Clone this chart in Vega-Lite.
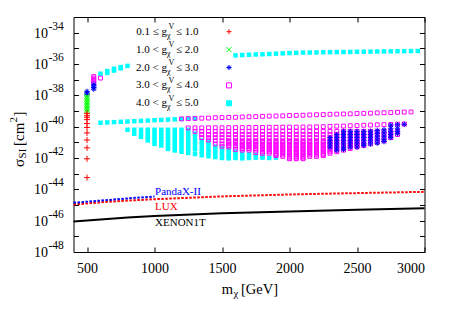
{
"$schema":"https://vega.github.io/schema/vega-lite/v6.json",
"width":351,"height":235,
"autosize":{"type":"none"},
"padding":{"left":73.5,"top":17,"right":27.5,"bottom":64},
"background":"white",
"config":{"view":{"stroke":"#000000","strokeWidth":1},"font":"Liberation Serif","text":{"font":"Liberation Serif","color":"#000000"},"axis":{"domain":false,"grid":false,"ticks":true,"tickColor":"#000000","tickSize":5,"tickWidth":1,"offset":-5,"labelFont":"Liberation Serif","labelFontSize":14,"labelColor":"#000000"}},
"datasets":{
"cy":[{"m":600,"s":2.4e-37},{"m":650,"s":3.55e-37},{"m":650,"s":2.69e-37},{"m":700,"s":5.01e-37},{"m":700,"s":3.8e-37},{"m":750,"s":6.31e-37},{"m":750,"s":5.25e-37},{"m":800,"s":7.59e-37},
{"m":1600,"s":3.55e-36},{"m":1650,"s":3.72e-36},{"m":1700,"s":3.89e-36},{"m":1750,"s":4.07e-36},{"m":1800,"s":4.17e-36},{"m":1850,"s":4.37e-36},{"m":1900,"s":4.57e-36},{"m":1950,"s":4.79e-36},{"m":2000,"s":5.01e-36},{"m":2050,"s":5.13e-36},{"m":2100,"s":5.37e-36},{"m":2150,"s":5.43e-36},{"m":2200,"s":5.5e-36},{"m":2250,"s":5.62e-36},{"m":2300,"s":5.69e-36},{"m":2350,"s":5.75e-36},{"m":2400,"s":5.82e-36},{"m":2450,"s":5.89e-36},{"m":2500,"s":6.03e-36},{"m":2550,"s":6.1e-36},{"m":2600,"s":6.17e-36},{"m":2650,"s":6.31e-36},{"m":2700,"s":6.38e-36},{"m":2750,"s":6.46e-36},{"m":2800,"s":6.53e-36},{"m":2850,"s":6.61e-36},{"m":2900,"s":6.68e-36},{"m":2950,"s":6.76e-36},
{"m":600,"s":1.78e-40},{"m":650,"s":1.86e-40},{"m":700,"s":1.95e-40},{"m":750,"s":2.04e-40},{"m":800,"s":2.14e-40},{"m":850,"s":2.24e-40},{"m":900,"s":2.34e-40},{"m":950,"s":2.45e-40},{"m":1000,"s":2.57e-40},{"m":1050,"s":2.69e-40},{"m":1100,"s":2.82e-40},{"m":1150,"s":2.95e-40},{"m":1200,"s":3.09e-40},{"m":1250,"s":3.24e-40},{"m":1300,"s":3.39e-40},
{"m":800,"s":6.31e-41},
{"m":850,"s":6.31e-41},{"m":850,"s":3.55e-41},
{"m":900,"s":6.31e-41},{"m":900,"s":3.55e-41},{"m":900,"s":2.24e-41},
{"m":950,"s":6.31e-41},{"m":950,"s":3.72e-41},{"m":950,"s":2.24e-41},{"m":950,"s":1.32e-41},
{"m":1000,"s":6.31e-41},{"m":1000,"s":3.8e-41},{"m":1000,"s":2.29e-41},{"m":1000,"s":1.38e-41},{"m":1000,"s":7.94e-42},
{"m":1050,"s":6.31e-41},{"m":1050,"s":3.98e-41},{"m":1050,"s":2.51e-41},{"m":1050,"s":1.585e-41},{"m":1050,"s":1e-41},{"m":1050,"s":6.31e-42},
{"m":1100,"s":6.31e-41},{"m":1100,"s":3.98e-41},{"m":1100,"s":2.51e-41},{"m":1100,"s":1.585e-41},{"m":1100,"s":1e-41},{"m":1100,"s":6.31e-42},{"m":1100,"s":3.8e-42},
{"m":1150,"s":6.31e-41},{"m":1150,"s":3.8e-41},{"m":1150,"s":2.29e-41},{"m":1150,"s":1.38e-41},{"m":1150,"s":8.32e-42},{"m":1150,"s":5.01e-42},{"m":1150,"s":3.02e-42},
{"m":1200,"s":6.31e-41},{"m":1200,"s":3.72e-41},{"m":1200,"s":2.19e-41},{"m":1200,"s":1.29e-41},{"m":1200,"s":7.59e-42},{"m":1200,"s":4.47e-42},{"m":1200,"s":2.51e-42},
{"m":1250,"s":6.31e-41},{"m":1250,"s":3.55e-41},{"m":1250,"s":2e-41},{"m":1250,"s":1.12e-41},{"m":1250,"s":6.31e-42},{"m":1250,"s":3.55e-42},{"m":1250,"s":2.09e-42},
{"m":1300,"s":3.55e-41},{"m":1300,"s":2e-41},{"m":1300,"s":1.12e-41},{"m":1300,"s":6.31e-42},{"m":1300,"s":3.55e-42},{"m":1300,"s":1.78e-42},
{"m":1350,"s":1.32e-41},{"m":1350,"s":7.94e-42},{"m":1350,"s":4.47e-42},{"m":1350,"s":2.51e-42},{"m":1350,"s":1.5e-42},
{"m":1400,"s":1e-41},{"m":1400,"s":6.31e-42},{"m":1400,"s":3.55e-42},{"m":1400,"s":2.24e-42},{"m":1400,"s":1.3e-42},
{"m":1450,"s":5.37e-42},{"m":1450,"s":3.16e-42},{"m":1450,"s":2e-42},{"m":1450,"s":1.15e-42},
{"m":1500,"s":4.17e-42},{"m":1500,"s":2.51e-42},{"m":1500,"s":1.585e-42},{"m":1500,"s":1e-42},
{"m":1550,"s":3.47e-42},{"m":1550,"s":2e-42},{"m":1550,"s":1.26e-42},{"m":1550,"s":9.5e-43},
{"m":1600,"s":2.51e-42},{"m":1600,"s":1.585e-42},{"m":1600,"s":1e-42},
{"m":1650,"s":1.905e-42},{"m":1650,"s":1.26e-42},{"m":1650,"s":9.5e-43},
{"m":1700,"s":1.78e-42},{"m":1700,"s":1e-42},
{"m":1750,"s":1.585e-42},{"m":1750,"s":1.05e-42},
{"m":1800,"s":1.26e-42},{"m":1800,"s":1.05e-42},{"m":1850,"s":1e-42},{"m":1900,"s":1.05e-42}],
"mg":[{"m":550,"s":1.585e-37},{"m":550,"s":1.26e-37},{"m":550,"s":1e-37},{"m":550,"s":7.94e-38},{"m":550,"s":6.31e-38},{"m":600,"s":1.26e-37},
{"m":1200,"s":3.16e-40},{"m":1250,"s":3.24e-40},{"m":1300,"s":3.39e-40},{"m":1350,"s":3.47e-40},{"m":1400,"s":3.55e-40},{"m":1450,"s":3.72e-40},{"m":1500,"s":3.8e-40},{"m":1550,"s":3.89e-40},{"m":1600,"s":3.98e-40},{"m":1650,"s":4.17e-40},{"m":1700,"s":4.27e-40},{"m":1750,"s":4.37e-40},{"m":1800,"s":4.57e-40},{"m":1850,"s":4.68e-40},{"m":1900,"s":4.79e-40},{"m":1950,"s":4.9e-40},{"m":2000,"s":5.13e-40},{"m":2050,"s":5.25e-40},{"m":2100,"s":5.37e-40},{"m":2150,"s":5.62e-40},{"m":2200,"s":5.75e-40},{"m":2250,"s":5.89e-40},{"m":2300,"s":6.17e-40},{"m":2350,"s":6.31e-40},{"m":2400,"s":6.46e-40},{"m":2450,"s":6.61e-40},{"m":2500,"s":6.92e-40},{"m":2550,"s":7.08e-40},{"m":2600,"s":7.24e-40},{"m":2650,"s":7.59e-40},{"m":2700,"s":7.76e-40},{"m":2750,"s":7.94e-40},{"m":2800,"s":8.32e-40},{"m":2850,"s":8.51e-40},{"m":2900,"s":8.71e-40},
{"m":1250,"s":8.32e-41},{"m":1300,"s":8.32e-41},{"m":1350,"s":8.32e-41},{"m":1400,"s":8.51e-41},{"m":1450,"s":8.51e-41},{"m":1500,"s":8.51e-41},{"m":1550,"s":8.71e-41},{"m":1600,"s":8.71e-41},{"m":1650,"s":8.71e-41},{"m":1700,"s":8.91e-41},{"m":1750,"s":8.91e-41},{"m":1800,"s":8.91e-41},{"m":1850,"s":9.12e-41},{"m":1900,"s":9.12e-41},{"m":1950,"s":9.33e-41},{"m":2000,"s":9.33e-41},{"m":2050,"s":9.33e-41},{"m":2100,"s":9.55e-41},{"m":2150,"s":9.55e-41},{"m":2200,"s":9.77e-41},{"m":2250,"s":1e-40},{"m":2300,"s":1.047e-40},{"m":2350,"s":1.072e-40},{"m":2400,"s":1.096e-40},{"m":2450,"s":1.148e-40},{"m":2500,"s":1.175e-40},{"m":2550,"s":1.23e-40},{"m":2600,"s":1.259e-40},{"m":2650,"s":1.318e-40},{"m":2700,"s":1.349e-40},{"m":2750,"s":1.38e-40},{"m":2800,"s":1.445e-40},{"m":2850,"s":1.479e-40},
{"m":1300,"s":5.01e-41},
{"m":1350,"s":5.01e-41},{"m":1350,"s":3.16e-41},{"m":1350,"s":2e-41},
{"m":1400,"s":5.01e-41},{"m":1400,"s":3.16e-41},{"m":1400,"s":2e-41},{"m":1400,"s":1.41e-41},
{"m":1450,"s":5.01e-41},{"m":1450,"s":3.16e-41},{"m":1450,"s":2e-41},{"m":1450,"s":1.26e-41},{"m":1450,"s":7.94e-42},
{"m":1500,"s":5.01e-41},{"m":1500,"s":3.16e-41},{"m":1500,"s":2e-41},{"m":1500,"s":1.26e-41},{"m":1500,"s":7.94e-42},{"m":1500,"s":5.62e-42},
{"m":1550,"s":5.01e-41},{"m":1550,"s":3.16e-41},{"m":1550,"s":2e-41},{"m":1550,"s":1.26e-41},{"m":1550,"s":1e-41},{"m":1550,"s":7.94e-42},{"m":1550,"s":6.31e-42},{"m":1550,"s":5.01e-42},
{"m":1600,"s":5.01e-41},{"m":1600,"s":3.16e-41},{"m":1600,"s":2e-41},{"m":1600,"s":1.26e-41},{"m":1600,"s":1e-41},{"m":1600,"s":7.94e-42},{"m":1600,"s":6.31e-42},{"m":1600,"s":5.01e-42},{"m":1600,"s":3.55e-42},
{"m":1650,"s":5.01e-41},{"m":1650,"s":3.16e-41},{"m":1650,"s":2e-41},{"m":1650,"s":1.26e-41},{"m":1650,"s":1e-41},{"m":1650,"s":7.94e-42},{"m":1650,"s":6.31e-42},{"m":1650,"s":5.01e-42},{"m":1650,"s":3.98e-42},{"m":1650,"s":3.16e-42},
{"m":1700,"s":5.01e-41},{"m":1700,"s":3.16e-41},{"m":1700,"s":2e-41},{"m":1700,"s":1.26e-41},{"m":1700,"s":1e-41},{"m":1700,"s":7.94e-42},{"m":1700,"s":6.31e-42},{"m":1700,"s":5.01e-42},{"m":1700,"s":3.98e-42},{"m":1700,"s":3.16e-42},
{"m":1750,"s":5.01e-41},{"m":1750,"s":3.16e-41},{"m":1750,"s":2e-41},{"m":1750,"s":1.26e-41},{"m":1750,"s":1e-41},{"m":1750,"s":7.94e-42},{"m":1750,"s":6.31e-42},{"m":1750,"s":5.01e-42},{"m":1750,"s":3.98e-42},{"m":1750,"s":3.16e-42},{"m":1750,"s":2.24e-42},
{"m":1800,"s":5.01e-41},{"m":1800,"s":3.16e-41},{"m":1800,"s":2e-41},{"m":1800,"s":1.26e-41},{"m":1800,"s":1e-41},{"m":1800,"s":7.94e-42},{"m":1800,"s":6.31e-42},{"m":1800,"s":5.01e-42},{"m":1800,"s":3.98e-42},{"m":1800,"s":3.16e-42},{"m":1800,"s":2.51e-42},{"m":1800,"s":2e-42},
{"m":1850,"s":5.01e-41},{"m":1850,"s":3.16e-41},{"m":1850,"s":2e-41},{"m":1850,"s":1.26e-41},{"m":1850,"s":1e-41},{"m":1850,"s":7.94e-42},{"m":1850,"s":6.31e-42},{"m":1850,"s":5.01e-42},{"m":1850,"s":3.98e-42},{"m":1850,"s":3.16e-42},{"m":1850,"s":2.51e-42},{"m":1850,"s":2e-42},
{"m":1900,"s":5.01e-41},{"m":1900,"s":3.16e-41},{"m":1900,"s":2e-41},{"m":1900,"s":1.26e-41},{"m":1900,"s":1e-41},{"m":1900,"s":7.94e-42},{"m":1900,"s":6.31e-42},{"m":1900,"s":5.01e-42},{"m":1900,"s":3.98e-42},{"m":1900,"s":3.16e-42},{"m":1900,"s":2.51e-42},{"m":1900,"s":2e-42},{"m":1900,"s":1.585e-42},{"m":1900,"s":1.41e-42},
{"m":1950,"s":5.01e-41},{"m":1950,"s":3.16e-41},{"m":1950,"s":2e-41},{"m":1950,"s":1.26e-41},{"m":1950,"s":1e-41},{"m":1950,"s":7.94e-42},{"m":1950,"s":6.31e-42},{"m":1950,"s":5.01e-42},{"m":1950,"s":3.98e-42},{"m":1950,"s":3.16e-42},{"m":1950,"s":2.51e-42},{"m":1950,"s":2e-42},{"m":1950,"s":1.585e-42},{"m":1950,"s":1.26e-42},
{"m":2000,"s":5.01e-41},{"m":2000,"s":3.16e-41},{"m":2000,"s":2e-41},{"m":2000,"s":1.26e-41},{"m":2000,"s":1e-41},{"m":2000,"s":7.94e-42},{"m":2000,"s":6.31e-42},{"m":2000,"s":5.01e-42},{"m":2000,"s":3.98e-42},{"m":2000,"s":3.16e-42},{"m":2000,"s":2.51e-42},{"m":2000,"s":2e-42},{"m":2000,"s":1.585e-42},{"m":2000,"s":1.26e-42},{"m":2000,"s":1e-42},{"m":2000,"s":8.91e-43},
{"m":2050,"s":5.01e-41},{"m":2050,"s":3.16e-41},{"m":2050,"s":2e-41},{"m":2050,"s":1.26e-41},{"m":2050,"s":1e-41},{"m":2050,"s":7.94e-42},{"m":2050,"s":6.31e-42},{"m":2050,"s":5.01e-42},{"m":2050,"s":3.98e-42},{"m":2050,"s":3.16e-42},{"m":2050,"s":2.51e-42},{"m":2050,"s":2e-42},{"m":2050,"s":1.585e-42},{"m":2050,"s":1.26e-42},{"m":2050,"s":1e-42},{"m":2050,"s":8.91e-43},
{"m":2100,"s":5.01e-41},{"m":2100,"s":3.16e-41},{"m":2100,"s":2e-41},{"m":2100,"s":1.26e-41},{"m":2100,"s":1e-41},{"m":2100,"s":7.94e-42},{"m":2100,"s":6.31e-42},{"m":2100,"s":5.01e-42},{"m":2100,"s":3.98e-42},{"m":2100,"s":3.16e-42},{"m":2100,"s":2.51e-42},{"m":2100,"s":2e-42},{"m":2100,"s":1.585e-42},{"m":2100,"s":1.26e-42},{"m":2100,"s":1e-42},{"m":2100,"s":8.91e-43},
{"m":2150,"s":5.01e-41},{"m":2150,"s":3.16e-41},{"m":2150,"s":2e-41},{"m":2150,"s":1.26e-41},{"m":2150,"s":1e-41},{"m":2150,"s":7.94e-42},{"m":2150,"s":6.31e-42},{"m":2150,"s":5.01e-42},{"m":2150,"s":3.98e-42},{"m":2150,"s":3.16e-42},{"m":2150,"s":2.51e-42},{"m":2150,"s":2e-42},{"m":2150,"s":1.585e-42},{"m":2150,"s":1.26e-42},
{"m":2200,"s":5.01e-41},{"m":2200,"s":3.16e-41},{"m":2200,"s":2e-41},{"m":2200,"s":1.26e-41},{"m":2200,"s":1e-41},{"m":2200,"s":7.94e-42},{"m":2200,"s":6.31e-42},{"m":2200,"s":5.01e-42},{"m":2200,"s":3.98e-42},{"m":2200,"s":3.16e-42},{"m":2200,"s":2.51e-42},{"m":2200,"s":2e-42},{"m":2200,"s":1.585e-42},{"m":2200,"s":1.26e-42},
{"m":2250,"s":5.01e-41},{"m":2250,"s":3.16e-41},{"m":2250,"s":2e-41},{"m":2250,"s":1.26e-41},{"m":2250,"s":1e-41},{"m":2250,"s":7.94e-42},{"m":2250,"s":6.31e-42},{"m":2250,"s":5.01e-42},{"m":2250,"s":3.98e-42},{"m":2250,"s":3.16e-42},{"m":2250,"s":2.51e-42},{"m":2250,"s":2e-42},{"m":2250,"s":1.585e-42},{"m":2250,"s":1.41e-42},
{"m":2300,"s":5.01e-41},{"m":2300,"s":3.16e-41},{"m":2300,"s":2e-41},{"m":2300,"s":1.26e-41},{"m":2300,"s":1e-41},{"m":2300,"s":7.94e-42},{"m":2300,"s":6.31e-42},{"m":2300,"s":5.01e-42},{"m":2300,"s":3.98e-42},{"m":2300,"s":3.16e-42},{"m":2300,"s":2.51e-42},{"m":2300,"s":2e-42},
{"m":2350,"s":5.01e-41},{"m":2350,"s":3.16e-41},{"m":2350,"s":2e-41},{"m":2350,"s":1.26e-41},{"m":2350,"s":1e-41},{"m":2350,"s":7.94e-42},{"m":2350,"s":6.31e-42},{"m":2350,"s":5.01e-42},{"m":2350,"s":3.98e-42},{"m":2350,"s":3.16e-42},{"m":2350,"s":2.51e-42},
{"m":2400,"s":5.01e-41},{"m":2400,"s":3.16e-41},{"m":2400,"s":2e-41},{"m":2400,"s":1.26e-41},{"m":2400,"s":1e-41},{"m":2400,"s":7.94e-42},{"m":2400,"s":6.31e-42},{"m":2400,"s":5.01e-42},{"m":2400,"s":3.98e-42},{"m":2400,"s":3.16e-42},
{"m":2450,"s":5.01e-41},{"m":2450,"s":3.16e-41},{"m":2450,"s":2e-41},{"m":2450,"s":1.26e-41},{"m":2450,"s":1e-41},{"m":2450,"s":7.94e-42},{"m":2450,"s":6.31e-42},{"m":2450,"s":5.01e-42},{"m":2450,"s":3.98e-42},
{"m":2500,"s":5.01e-41},{"m":2500,"s":3.16e-41},{"m":2500,"s":2e-41},{"m":2500,"s":1.26e-41},{"m":2500,"s":1e-41},{"m":2500,"s":7.94e-42},{"m":2500,"s":6.31e-42},{"m":2500,"s":5.01e-42},
{"m":2550,"s":5.01e-41},{"m":2550,"s":3.16e-41},{"m":2550,"s":2e-41},{"m":2550,"s":1.26e-41},{"m":2550,"s":7.94e-42},{"m":2550,"s":6.31e-42},
{"m":2600,"s":5.01e-41},{"m":2600,"s":3.16e-41},{"m":2600,"s":2e-41},{"m":2600,"s":1.26e-41},{"m":2600,"s":7.94e-42},
{"m":2650,"s":5.01e-41},{"m":2650,"s":3.16e-41},{"m":2650,"s":2e-41},{"m":2650,"s":1.26e-41},{"m":2650,"s":1e-41},
{"m":2700,"s":5.01e-41},{"m":2700,"s":3.16e-41},{"m":2700,"s":2e-41},{"m":2700,"s":1.26e-41},
{"m":2750,"s":5.01e-41},{"m":2750,"s":3.16e-41},{"m":2750,"s":2e-41},
{"m":2800,"s":5.01e-41},{"m":2800,"s":3.16e-41}],
"bl":[{"m":500,"s":1.78e-38},{"m":500,"s":1.41e-38},{"m":500,"s":1.12e-38},
{"m":550,"s":5.01e-38},{"m":550,"s":3.98e-38},{"m":550,"s":3.16e-38},{"m":550,"s":2.51e-38},
{"m":2300,"s":2e-41},{"m":2300,"s":1.26e-41},{"m":2300,"s":7.94e-42},{"m":2300,"s":5.01e-42},
{"m":2350,"s":3.16e-41},{"m":2350,"s":2e-41},{"m":2350,"s":1.26e-41},{"m":2350,"s":7.94e-42},{"m":2350,"s":5.01e-42},{"m":2350,"s":3.16e-42},
{"m":2400,"s":5.01e-41},{"m":2400,"s":3.16e-41},{"m":2400,"s":2e-41},{"m":2400,"s":1.26e-41},{"m":2400,"s":7.94e-42},{"m":2400,"s":5.01e-42},{"m":2400,"s":3.55e-42},
{"m":2450,"s":5.01e-41},{"m":2450,"s":3.16e-41},{"m":2450,"s":2e-41},{"m":2450,"s":1.26e-41},{"m":2450,"s":7.94e-42},{"m":2450,"s":5.01e-42},
{"m":2500,"s":5.01e-41},{"m":2500,"s":3.16e-41},{"m":2500,"s":2e-41},{"m":2500,"s":1.26e-41},{"m":2500,"s":7.94e-42},{"m":2500,"s":5.01e-42},
{"m":2550,"s":5.01e-41},{"m":2550,"s":3.16e-41},{"m":2550,"s":2e-41},{"m":2550,"s":1.26e-41},{"m":2550,"s":7.94e-42},{"m":2550,"s":6.31e-42},
{"m":2600,"s":5.01e-41},{"m":2600,"s":3.16e-41},{"m":2600,"s":2e-41},{"m":2600,"s":1.26e-41},{"m":2600,"s":7.94e-42},
{"m":2650,"s":5.62e-41},{"m":2650,"s":3.55e-41},{"m":2650,"s":2.24e-41},{"m":2650,"s":1.41e-41},{"m":2650,"s":8.91e-42},
{"m":2700,"s":6.31e-41},{"m":2700,"s":3.98e-41},{"m":2700,"s":2.51e-41},{"m":2700,"s":1.585e-41},{"m":2700,"s":1.12e-41},
{"m":2750,"s":1.26e-40},{"m":2750,"s":7.94e-41},{"m":2750,"s":5.01e-41},{"m":2750,"s":3.16e-41},{"m":2750,"s":2e-41},
{"m":2800,"s":1.32e-40},{"m":2800,"s":7.94e-41},{"m":2800,"s":5.01e-41},{"m":2800,"s":3.55e-41},
{"m":2850,"s":1.41e-40}],
"gr":[{"m":500,"s":8.91e-39},{"m":500,"s":7.08e-39},{"m":500,"s":5.62e-39},{"m":500,"s":4.47e-39},{"m":500,"s":3.55e-39},{"m":500,"s":2.82e-39},{"m":500,"s":2.24e-39},{"m":500,"s":1.78e-39},{"m":500,"s":1.41e-39},{"m":500,"s":1.12e-39},{"m":500,"s":8.91e-40}],
"rd":[{"m":500,"s":7.08e-40},{"m":500,"s":5.01e-40},{"m":500,"s":3.98e-40},{"m":500,"s":2.82e-40},{"m":500,"s":1.585e-40},{"m":500,"s":8.91e-41},{"m":500,"s":3.98e-41},{"m":500,"s":1.41e-41},{"m":500,"s":4.47e-42},{"m":500,"s":8.91e-43},{"m":500,"s":5.62e-44}],
"lim":[{"c":"PandaX-II","m":400,"s":1.38e-45},{"c":"PandaX-II","m":600,"s":1.91e-45},{"c":"PandaX-II","m":800,"s":2.63e-45},{"c":"PandaX-II","m":1000,"s":3.47e-45},
{"c":"LUX","m":400,"s":1.07e-45},{"c":"LUX","m":500,"s":1.26e-45},{"c":"LUX","m":600,"s":1.48e-45},{"c":"LUX","m":800,"s":1.91e-45},{"c":"LUX","m":1000,"s":2.34e-45},{"c":"LUX","m":1500,"s":3.55e-45},{"c":"LUX","m":2000,"s":4.68e-45},{"c":"LUX","m":2500,"s":5.75e-45},{"c":"LUX","m":3000,"s":6.92e-45},
{"c":"XENON1T","m":400,"s":8.71e-47},{"c":"XENON1T","m":600,"s":1.175e-46},{"c":"XENON1T","m":800,"s":1.585e-46},{"c":"XENON1T","m":1000,"s":2e-46},{"c":"XENON1T","m":1500,"s":2.95e-46},{"c":"XENON1T","m":2000,"s":3.89e-46},{"c":"XENON1T","m":2500,"s":5.01e-46},{"c":"XENON1T","m":3000,"s":6.17e-46}],
"notes":[{"t":"PandaX-II","m":1004,"s":6.76e-45},{"t":"LUX","m":1004,"s":7.41e-46},{"t":"XENON1T","m":1004,"s":7.08e-47}],
"yt":[{"s":1e-48,"e":"-48"},{"s":1e-46,"e":"-46"},{"s":1e-44,"e":"-44"},{"s":1e-42,"e":"-42"},{"s":1e-40,"e":"-40"},{"s":1e-38,"e":"-38"},{"s":1e-36,"e":"-36"},{"s":1e-34,"e":"-34"}],
"leg":[{"k":1,"lo":"0.1 ≤ g","hi":"≤ 1.0"},{"k":2,"lo":"1.0 < g","hi":"≤ 2.0"},{"k":3,"lo":"2.0 < g","hi":"≤ 3.0"},{"k":4,"lo":"3.0 < g","hi":"≤ 4.0"},{"k":5,"lo":"4.0 < g","hi":"≤ 5.0"}]
},
"resolve":{"scale":{"y":"independent"},"axis":{"x":"independent","y":"independent"}},
"layer":[
{"resolve":{"axis":{"x":"independent","y":"independent"}},
"layer":[
{"data":{"name":"cy"},"mark":{"type":"point","shape":"square","filled":true,"color":"#00ffff","size":20,"opacity":1,"strokeWidth":0},
"encoding":{"x":{"field":"m","type":"quantitative","scale":{"domain":[400,3000],"nice":false,"zero":false},"axis":{"orient":"bottom","values":[500,1000,1500,2000,2500,3000],"format":"d","labelFont":"Liberation Serif","labelFontSize":14,"labelPadding":9,"title":null}},
"y":{"field":"s","type":"quantitative","scale":{"type":"log","domain":[1e-48,1e-33],"nice":false},"axis":{"orient":"left","values":[1e-48,1e-47,1e-46,1e-45,1e-44,1e-43,1e-42,1e-41,1e-40,1e-39,1e-38,1e-37,1e-36,1e-35,1e-34],"labels":false,"title":null}}}},
{"data":{"name":"mg"},"mark":{"type":"point","shape":"square","filled":false,"color":"#ff00ff","size":15,"strokeWidth":1,"opacity":1},
"encoding":{"x":{"field":"m","type":"quantitative","scale":{"domain":[400,3000],"nice":false,"zero":false},"axis":{"orient":"top","values":[500,1000,1500,2000,2500,3000],"labels":false,"title":null}},
"y":{"field":"s","type":"quantitative","scale":{"type":"log","domain":[1e-48,1e-33],"nice":false},"axis":{"orient":"right","values":[1e-48,1e-47,1e-46,1e-45,1e-44,1e-43,1e-42,1e-41,1e-40,1e-39,1e-38,1e-37,1e-36,1e-35,1e-34],"labels":false,"title":null}}}},
{"data":{"name":"bl"},"mark":{"type":"point","shape":"M-1,0L1,0M0,-1L0,1M-0.7,-0.7L0.7,0.7M-0.7,0.7L0.7,-0.7","filled":false,"color":"#0000ff","size":30,"strokeWidth":1,"opacity":1},
"encoding":{"x":{"field":"m","type":"quantitative","scale":{"domain":[400,3000],"nice":false,"zero":false},"axis":null},"y":{"field":"s","type":"quantitative","scale":{"type":"log","domain":[1e-48,1e-33],"nice":false},"axis":null}}},
{"data":{"name":"gr"},"mark":{"type":"point","shape":"M-1,-1L1,1M-1,1L1,-1","filled":false,"color":"#00ff00","size":25,"strokeWidth":1,"opacity":1},
"encoding":{"x":{"field":"m","type":"quantitative","scale":{"domain":[400,3000],"nice":false,"zero":false},"axis":null},"y":{"field":"s","type":"quantitative","scale":{"type":"log","domain":[1e-48,1e-33],"nice":false},"axis":null}}},
{"data":{"name":"rd"},"mark":{"type":"point","shape":"M-1,0L1,0M0,-1L0,1","filled":false,"color":"#ff0000","size":36,"strokeWidth":1,"opacity":1},
"encoding":{"x":{"field":"m","type":"quantitative","scale":{"domain":[400,3000],"nice":false,"zero":false},"axis":null},"y":{"field":"s","type":"quantitative","scale":{"type":"log","domain":[1e-48,1e-33],"nice":false},"axis":null}}},
{"data":{"name":"lim"},"transform":[{"filter":"datum.c == 'XENON1T'"}],"mark":{"type":"line","color":"#000000","strokeWidth":2},
"encoding":{"x":{"field":"m","type":"quantitative","scale":{"domain":[400,3000],"nice":false,"zero":false},"axis":null},"y":{"field":"s","type":"quantitative","scale":{"type":"log","domain":[1e-48,1e-33],"nice":false},"axis":null}}},
{"data":{"name":"lim"},"transform":[{"filter":"datum.c == 'LUX'"}],"mark":{"type":"line","color":"#ff0000","strokeWidth":2,"strokeDash":[2.5,1.5]},
"encoding":{"x":{"field":"m","type":"quantitative","scale":{"domain":[400,3000],"nice":false,"zero":false},"axis":null},"y":{"field":"s","type":"quantitative","scale":{"type":"log","domain":[1e-48,1e-33],"nice":false},"axis":null}}},
{"data":{"name":"lim"},"transform":[{"filter":"datum.c == 'PandaX-II'"}],"mark":{"type":"line","color":"#0000ff","strokeWidth":2,"strokeDash":[2.5,1.5]},
"encoding":{"x":{"field":"m","type":"quantitative","scale":{"domain":[400,3000],"nice":false,"zero":false},"axis":null},"y":{"field":"s","type":"quantitative","scale":{"type":"log","domain":[1e-48,1e-33],"nice":false},"axis":null}}},
{"data":{"name":"notes"},"mark":{"type":"text","align":"left","baseline":"middle","fontSize":11,"font":"Liberation Serif"},
"encoding":{"x":{"field":"m","type":"quantitative","scale":{"domain":[400,3000],"nice":false,"zero":false},"axis":null},"y":{"field":"s","type":"quantitative","scale":{"type":"log","domain":[1e-48,1e-33],"nice":false},"axis":null},"text":{"field":"t"},
"color":{"field":"t","type":"nominal","scale":{"domain":["PandaX-II","LUX","XENON1T"],"range":["#0000ff","#ff0000","#000000"]},"legend":null}}},
{"data":{"name":"yt"},"mark":{"type":"text","align":"right","baseline":"middle","dx":-25.5,"dy":1,"fontSize":14,"font":"Liberation Serif"},
"encoding":{"x":{"datum":400,"type":"quantitative","scale":{"domain":[400,3000],"nice":false,"zero":false},"axis":null},"y":{"field":"s","type":"quantitative","scale":{"type":"log","domain":[1e-48,1e-33],"nice":false},"axis":null},"text":{"value":"10"}}},
{"data":{"name":"yt"},"mark":{"type":"text","align":"left","baseline":"middle","dx":-25,"dy":-6,"fontSize":11.5,"font":"Liberation Serif"},
"encoding":{"x":{"datum":400,"type":"quantitative","scale":{"domain":[400,3000],"nice":false,"zero":false},"axis":null},"y":{"field":"s","type":"quantitative","scale":{"type":"log","domain":[1e-48,1e-33],"nice":false},"axis":null},"text":{"field":"e"}}},
{"data":{"values":[{}]},"mark":{"type":"text","align":"right","baseline":"middle","dx":0,"dy":38,"fontSize":14.5,"font":"Liberation Serif"},
"encoding":{"x":{"datum":1581,"type":"quantitative","scale":{"domain":[400,3000],"nice":false,"zero":false},"axis":null},"y":{"datum":1e-48,"type":"quantitative","scale":{"type":"log","domain":[1e-48,1e-33],"nice":false},"axis":null},"text":{"value":"m"}}},
{"data":{"values":[{}]},"mark":{"type":"text","align":"left","baseline":"middle","dx":0.5,"dy":42,"fontSize":10.5,"font":"Liberation Serif"},
"encoding":{"x":{"datum":1581,"type":"quantitative","scale":{"domain":[400,3000],"nice":false,"zero":false},"axis":null},"y":{"datum":1e-48,"type":"quantitative","scale":{"type":"log","domain":[1e-48,1e-33],"nice":false},"axis":null},"text":{"value":"χ"}}},
{"data":{"values":[{}]},"mark":{"type":"text","align":"left","baseline":"middle","dx":8,"dy":38,"fontSize":14.5,"font":"Liberation Serif"},
"encoding":{"x":{"datum":1581,"type":"quantitative","scale":{"domain":[400,3000],"nice":false,"zero":false},"axis":null},"y":{"datum":1e-48,"type":"quantitative","scale":{"type":"log","domain":[1e-48,1e-33],"nice":false},"axis":null},"text":{"value":"[GeV]"}}},
{"data":{"values":[{}]},"mark":{"type":"text","align":"left","baseline":"middle","angle":270,"dx":0,"dy":-54.5,"fontSize":15,"font":"Liberation Serif"},
"encoding":{"x":{"datum":400,"type":"quantitative","scale":{"domain":[400,3000],"nice":false,"zero":false},"axis":null},"y":{"datum":2.67e-43,"type":"quantitative","scale":{"type":"log","domain":[1e-48,1e-33],"nice":false},"axis":null},"text":{"value":"σ"}}},
{"data":{"values":[{}]},"mark":{"type":"text","align":"left","baseline":"middle","angle":270,"dx":8.5,"dy":-51,"fontSize":11,"font":"Liberation Serif"},
"encoding":{"x":{"datum":400,"type":"quantitative","scale":{"domain":[400,3000],"nice":false,"zero":false},"axis":null},"y":{"datum":2.67e-43,"type":"quantitative","scale":{"type":"log","domain":[1e-48,1e-33],"nice":false},"axis":null},"text":{"value":"SI"}}},
{"data":{"values":[{}]},"mark":{"type":"text","align":"left","baseline":"middle","angle":270,"dx":21,"dy":-54.5,"fontSize":15,"font":"Liberation Serif"},
"encoding":{"x":{"datum":400,"type":"quantitative","scale":{"domain":[400,3000],"nice":false,"zero":false},"axis":null},"y":{"datum":2.67e-43,"type":"quantitative","scale":{"type":"log","domain":[1e-48,1e-33],"nice":false},"axis":null},"text":{"value":"[cm"}}},
{"data":{"values":[{}]},"mark":{"type":"text","align":"left","baseline":"middle","angle":270,"dx":44.5,"dy":-59.5,"fontSize":11,"font":"Liberation Serif"},
"encoding":{"x":{"datum":400,"type":"quantitative","scale":{"domain":[400,3000],"nice":false,"zero":false},"axis":null},"y":{"datum":2.67e-43,"type":"quantitative","scale":{"type":"log","domain":[1e-48,1e-33],"nice":false},"axis":null},"text":{"value":"2"}}},
{"data":{"values":[{}]},"mark":{"type":"text","align":"left","baseline":"middle","angle":270,"dx":50.5,"dy":-54.5,"fontSize":15,"font":"Liberation Serif"},
"encoding":{"x":{"datum":400,"type":"quantitative","scale":{"domain":[400,3000],"nice":false,"zero":false},"axis":null},"y":{"datum":2.67e-43,"type":"quantitative","scale":{"type":"log","domain":[1e-48,1e-33],"nice":false},"axis":null},"text":{"value":"]"}}}
]},
{"data":{"name":"leg"},
"layer":[
{"mark":{"type":"text","align":"right","baseline":"middle","fontSize":11,"font":"Liberation Serif"},
"encoding":{"x":{"datum":1093,"type":"quantitative","scale":{"domain":[400,3000],"nice":false,"zero":false},"axis":null},"y":{"field":"k","type":"ordinal","scale":{"type":"point","range":[14.7,86.3],"padding":0},"axis":null},"text":{"field":"lo"}}},
{"mark":{"type":"text","align":"left","baseline":"middle","dx":1.5,"dy":-4.5,"fontSize":8,"font":"Liberation Serif"},
"encoding":{"x":{"datum":1093,"type":"quantitative","scale":{"domain":[400,3000],"nice":false,"zero":false},"axis":null},"y":{"field":"k","type":"ordinal","scale":{"type":"point","range":[14.7,86.3],"padding":0},"axis":null},"text":{"value":"V"}}},
{"mark":{"type":"text","align":"left","baseline":"middle","dx":0,"dy":4,"fontSize":8,"font":"Liberation Serif"},
"encoding":{"x":{"datum":1093,"type":"quantitative","scale":{"domain":[400,3000],"nice":false,"zero":false},"axis":null},"y":{"field":"k","type":"ordinal","scale":{"type":"point","range":[14.7,86.3],"padding":0},"axis":null},"text":{"value":"χ"}}},
{"mark":{"type":"text","align":"left","baseline":"middle","dx":9,"fontSize":11,"font":"Liberation Serif"},
"encoding":{"x":{"datum":1093,"type":"quantitative","scale":{"domain":[400,3000],"nice":false,"zero":false},"axis":null},"y":{"field":"k","type":"ordinal","scale":{"type":"point","range":[14.7,86.3],"padding":0},"axis":null},"text":{"field":"hi"}}},
{"mark":{"type":"point","size":25,"strokeWidth":1,"opacity":1},
"encoding":{"x":{"datum":1552,"type":"quantitative","scale":{"domain":[400,3000],"nice":false,"zero":false},"axis":null},"y":{"field":"k","type":"ordinal","scale":{"type":"point","range":[14.7,86.3],"padding":0},"axis":null},
"shape":{"field":"k","type":"nominal","scale":{"domain":[1,2,3,4,5],"range":["M-1,0L1,0M0,-1L0,1","M-1,-1L1,1M-1,1L1,-1","M-1,0L1,0M0,-1L0,1M-0.7,-0.7L0.7,0.7M-0.7,0.7L0.7,-0.7","square","square"]},"legend":null},
"stroke":{"field":"k","type":"nominal","scale":{"domain":[1,2,3,4,5],"range":["#ff0000","#00ff00","#0000ff","#ff00ff","#00ffff"]},"legend":null},
"fill":{"field":"k","type":"nominal","scale":{"domain":[1,2,3,4,5],"range":["transparent","transparent","transparent","transparent","#00ffff"]},"legend":null}}}
]}
]
}
